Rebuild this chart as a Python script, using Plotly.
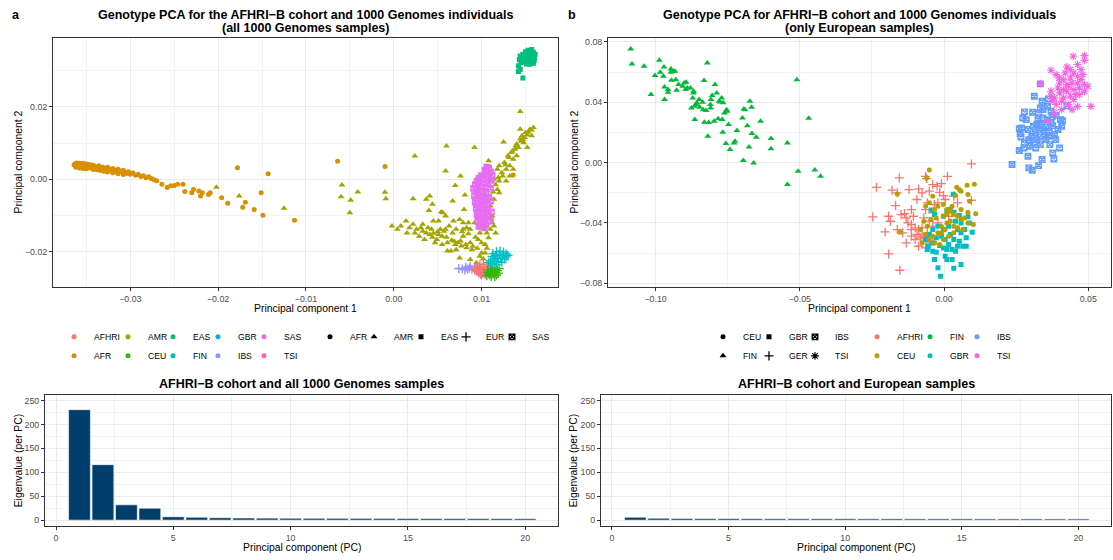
import plotly.graph_objects as go

# ---------------------------------------------------------------- data
COLOR_GROUPS_A = ["AFHRI", "AFR", "AMR", "CEU", "EAS", "FIN", "GBR", "IBS", "SAS", "TSI"]
SHAPE_GROUPS_A = ["AFR", "AMR", "EAS", "EUR", "SAS"]
SHAPE_GROUPS_B = ["CEU", "FIN", "GBR", "GER", "IBS", "TSI"]
COLOR_GROUPS_B = ["AFHRI", "CEU", "FIN", "GBR", "IBS", "TSI"]

PCS = list(range(1, 21))
EIG_ALL = [231, 116, 32, 25, 7, 6, 5, 4.5, 4.2, 4.0, 3.9, 3.8, 3.7, 3.6, 3.5, 3.4, 3.3, 3.3, 3.2, 3.1]
EIG_EUR = [6, 4, 3.5, 3.3, 3.2, 3.1, 3.0, 3.0, 2.9, 2.9, 2.8, 2.8, 2.7, 2.7, 2.7, 2.6, 2.6, 2.6, 2.5, 2.5]

# panel a : (PC1, PC2) per population
A_AFR = [(-0.0364, 0.0040), (-0.0363, 0.0043), (-0.0362, 0.0038), (-0.0361, 0.0045), (-0.0360, 0.0041),
         (-0.0359, 0.0036), (-0.0358, 0.0044), (-0.0357, 0.0039), (-0.0356, 0.0042), (-0.0355, 0.0037),
         (-0.0354, 0.0044), (-0.0353, 0.0040), (-0.0352, 0.0035), (-0.0351, 0.0043), (-0.0350, 0.0039),
         (-0.0349, 0.0036), (-0.0348, 0.0041), (-0.0347, 0.0038), (-0.0346, 0.0034), (-0.0345, 0.0040),
         (-0.0344, 0.0037), (-0.0343, 0.0033), (-0.0342, 0.0039), (-0.0340, 0.0035), (-0.0338, 0.0032),
         (-0.0336, 0.0037), (-0.0334, 0.0030), (-0.0332, 0.0034), (-0.0330, 0.0031), (-0.0328, 0.0027),
         (-0.0326, 0.0033), (-0.0324, 0.0029), (-0.0322, 0.0025), (-0.0320, 0.0030), (-0.0318, 0.0026),
         (-0.0316, 0.0022), (-0.0314, 0.0028), (-0.0312, 0.0023), (-0.0310, 0.0020), (-0.0308, 0.0025),
         (-0.0306, 0.0019), (-0.0304, 0.0016), (-0.0302, 0.0021), (-0.0300, 0.0014), (-0.0297, 0.0017),
         (-0.0294, 0.0011), (-0.0291, 0.0014), (-0.0288, 0.0008), (-0.0285, 0.0010), (-0.0282, 0.0004),
         (-0.0279, 0.0007), (-0.0276, 0.0002), (-0.0273, -0.0001), (-0.0270, -0.0004),
         (-0.0362, 0.0033), (-0.0358, 0.0031), (-0.0354, 0.0030), (-0.0350, 0.0029), (-0.0346, 0.0031),
         (-0.0342, 0.0027), (-0.0338, 0.0026), (-0.0334, 0.0024), (-0.0330, 0.0022), (-0.0326, 0.0020),
         (-0.0320, 0.0018), (-0.0314, 0.0015), (-0.0308, 0.0013),
         (-0.0264, -0.0014), (-0.0258, -0.0023), (-0.0254, -0.0018), (-0.0250, -0.0017), (-0.0246, -0.0014),
         (-0.0240, -0.0014), (-0.0238, -0.0034), (-0.0230, -0.0037), (-0.0228, -0.0028), (-0.0222, -0.0032),
         (-0.0220, -0.0046), (-0.0218, -0.0037), (-0.0211, -0.0042), (-0.0209, -0.0037), (-0.0196, -0.0051),
         (-0.0189, -0.0066), (-0.0178, 0.0032), (-0.0172, -0.0077), (-0.0169, -0.0063), (-0.0159, -0.0083),
         (-0.0151, -0.0037), (-0.0149, -0.0099), (-0.0143, 0.0015), (-0.0113, -0.0113), (-0.0064, 0.0050),
         (-0.0010, 0.0035), (0.0136, 0.0012)]

A_AMR = [(-0.0202, -0.0022), (-0.0176, -0.0046), (-0.0125, -0.0080), (-0.0059, -0.0016), (-0.0060, -0.0048),
         (-0.0049, -0.0058), (-0.0050, -0.0092), (-0.0041, -0.0035), (-0.0010, -0.0036), (-0.0009, -0.0054),
         (0.0024, 0.0064), (0.0059, 0.0023), (0.0060, 0.0092), (0.0092, 0.0088), (0.0076, 0.0009),
         (0.0070, -0.0017), (0.0022, -0.0054), (0.0037, -0.0055), (0.0041, -0.0046), (0.0044, -0.0069),
         (0.0040, -0.0086), (0.0054, -0.0090), (0.0056, -0.0092), (0.0067, -0.0060), (0.0081, -0.0043),
         (0.0080, -0.0083), (0.0075, -0.0111), (0.0059, -0.0101), (0.0068, -0.0115), (0.0051, -0.0115),
         (-0.0002, -0.0129), (0.0004, -0.0138), (0.0014, -0.0115), (0.0022, -0.0124), (0.0026, -0.0138),
         (0.0033, -0.0124), (0.0037, -0.0148), (0.0043, -0.0138), (0.0049, -0.0166), (0.0055, -0.0157),
         (0.0061, -0.0175), (0.0067, -0.0148), (0.0073, -0.0175), (0.0079, -0.0157), (0.0083, -0.0189),
         (0.0089, -0.0194), (0.0096, -0.0166), (0.0100, -0.0203), (0.0104, -0.0180), (0.0106, -0.0148),
         (0.0087, -0.0138), (0.0079, -0.0138), (0.0071, -0.0194), (0.0065, -0.0198), (0.0057, -0.0143),
         (0.0041, -0.0152), (0.0033, -0.0143), (0.0029, -0.0157), (0.0047, -0.0175), (0.0053, -0.0138),
         (0.0063, -0.0129), (0.0083, -0.0134), (0.0092, -0.0120), (0.0098, -0.0134), (0.0075, -0.0217),
         (0.0087, -0.0221), (0.0094, -0.0230), (0.0098, -0.0212), (0.0104, -0.0203), (0.0108, -0.0161),
         (0.0114, -0.0129), (0.0112, -0.0101), (0.0110, -0.0074), (0.0114, -0.0055), (0.0118, -0.0028),
         (0.0120, -0.0005), (0.0124, 0.0009), (0.0128, 0.0028), (0.0126, 0.0046), (0.0130, 0.0065),
         (0.0134, 0.0074), (0.0138, 0.0083), (0.0140, 0.0097), (0.0144, 0.0111), (0.0146, 0.0120),
         (0.0150, 0.0129), (0.0155, 0.0138), (0.0159, 0.0143), (0.0157, 0.0120), (0.0148, 0.0101),
         (0.0142, 0.0088), (0.0136, 0.0055), (0.0132, 0.0037), (0.0132, 0.0009), (0.0128, -0.0005),
         (0.0120, -0.0037), (0.0114, 0.0000), (0.0108, 0.0051), (0.0118, 0.0028), (0.0125, 0.0103),
         (0.0144, 0.0187), (0.0144, 0.0138), (0.0152, 0.0088), (0.0140, 0.0065), (0.0136, 0.0028),
         (0.0120, 0.0037), (0.0106, -0.0018), (0.0100, 0.0009), (0.0098, -0.0065), (0.0104, -0.0046),
         (0.0112, -0.0120), (0.0116, -0.0148), (0.0104, -0.0101), (0.0096, -0.0101), (0.0087, -0.0175),
         (0.0077, -0.0184), (0.0069, -0.0171), (0.0061, -0.0198), (0.0055, -0.0180), (0.0051, -0.0152),
         (0.0045, -0.0149), (0.0039, -0.0134), (0.0031, -0.0134), (0.0018, -0.0134), (0.0008, -0.0129),
         (0.0015, -0.0148), (0.0024, -0.0148), (0.0035, -0.0166), (0.0045, -0.0115), (0.0059, -0.0138),
         (0.0071, -0.0138), (0.0079, -0.0120), (0.0085, -0.0120), (0.0098, -0.0148), (0.0103, -0.0138),
         (0.0110, -0.0138),
         (0.0153, 0.0130), (0.0149, 0.0115), (0.0145, 0.0105), (0.0139, 0.0092), (0.0135, 0.0078),
         (0.0131, 0.0060), (0.0127, 0.0040), (0.0123, 0.0018), (0.0119, 0.0005), (0.0116, -0.0015),
         (0.0113, -0.0035), (0.0157, 0.0135), (0.0152, 0.0122), (0.0147, 0.0110),
         (0.0060, -0.0160), (0.0066, -0.0168), (0.0070, -0.0180), (0.0076, -0.0170), (0.0082, -0.0180),
         (0.0090, -0.0185), (0.0093, -0.0160), (0.0085, -0.0150), (0.0078, -0.0145), (0.0050, -0.0145),
         (0.0044, -0.0160), (0.0095, -0.0190), (0.0100, -0.0175), (0.0106, -0.0190), (0.0102, -0.0220)]

A_EAS = [(0.0147, 0.0345), (0.0150, 0.0352), (0.0153, 0.0356), (0.0156, 0.0354), (0.0159, 0.0350),
         (0.0161, 0.0345), (0.0149, 0.0338), (0.0152, 0.0342), (0.0155, 0.0346), (0.0158, 0.0341),
         (0.0160, 0.0336), (0.0146, 0.0332), (0.0150, 0.0330), (0.0154, 0.0335), (0.0157, 0.0331),
         (0.0160, 0.0328), (0.0148, 0.0325), (0.0152, 0.0322), (0.0156, 0.0324), (0.0159, 0.0320),
         (0.0144, 0.0340), (0.0143, 0.0330), (0.0151, 0.0318), (0.0155, 0.0317), (0.0153, 0.0349),
         (0.0157, 0.0358), (0.0145, 0.0322), (0.0142, 0.0313), (0.0144, 0.0303), (0.0142, 0.0297),
         (0.0147, 0.0279)]

A_SAS = [(0.0106, 0.0033), (0.0108, 0.0030), (0.0104, 0.0025), (0.0110, 0.0020), (0.0105, 0.0015),
         (0.0112, 0.0012), (0.0100, 0.0010), (0.0108, 0.0005), (0.0097, 0.0002), (0.0103, 0.0000),
         (0.0111, -0.0003), (0.0095, -0.0005), (0.0100, -0.0010), (0.0107, -0.0012), (0.0093, -0.0015),
         (0.0098, -0.0020), (0.0104, -0.0022), (0.0110, -0.0025), (0.0094, -0.0030), (0.0101, -0.0032),
         (0.0096, -0.0038), (0.0105, -0.0040), (0.0092, -0.0045), (0.0099, -0.0047), (0.0108, -0.0050),
         (0.0095, -0.0055), (0.0102, -0.0057), (0.0093, -0.0062), (0.0100, -0.0065), (0.0106, -0.0068),
         (0.0096, -0.0072), (0.0103, -0.0075), (0.0094, -0.0080), (0.0100, -0.0083), (0.0107, -0.0086),
         (0.0097, -0.0090), (0.0103, -0.0093), (0.0095, -0.0098), (0.0101, -0.0100), (0.0108, -0.0103),
         (0.0098, -0.0107), (0.0104, -0.0110), (0.0096, -0.0115), (0.0102, -0.0118), (0.0099, -0.0123),
         (0.0105, -0.0125), (0.0097, -0.0130), (0.0103, -0.0134), (0.0110, -0.0060), (0.0111, -0.0090),
         (0.0110, -0.0115), (0.0091, -0.0025)]

A_IBS = [(0.0074, -0.0246), (0.0078, -0.0247), (0.0082, -0.0243), (0.0086, -0.0245), (0.0089, -0.0248),
         (0.0092, -0.0246), (0.0087, -0.0240), (0.0094, -0.0252), (0.0081, -0.0250), (0.0084, -0.0248)]

A_TSI = [(0.0098, -0.0255), (0.0101, -0.0258), (0.0096, -0.0250), (0.0104, -0.0260), (0.0099, -0.0262)]

A_AFHRI = [(0.0095, -0.0240), (0.0098, -0.0236), (0.0102, -0.0234), (0.0106, -0.0236), (0.0109, -0.0240),
           (0.0094, -0.0247), (0.0098, -0.0244), (0.0102, -0.0242), (0.0106, -0.0244), (0.0110, -0.0247),
           (0.0095, -0.0254), (0.0099, -0.0251), (0.0103, -0.0250), (0.0107, -0.0252), (0.0110, -0.0255),
           (0.0097, -0.0259), (0.0101, -0.0258), (0.0105, -0.0260), (0.0100, -0.0264), (0.0104, -0.0263),
           (0.0092, -0.0250), (0.0112, -0.0243)]

A_GBR = [(0.0110, -0.0254), (0.0114, -0.0258), (0.0108, -0.0260), (0.0112, -0.0252)]

A_CEU = [(0.0107, -0.0250), (0.0111, -0.0248), (0.0115, -0.0249), (0.0118, -0.0252), (0.0108, -0.0257),
         (0.0112, -0.0255), (0.0116, -0.0256), (0.0119, -0.0259), (0.0109, -0.0263), (0.0113, -0.0262),
         (0.0117, -0.0264), (0.0111, -0.0268), (0.0115, -0.0269), (0.0120, -0.0246), (0.0106, -0.0266)]

A_FIN = [(0.0113, -0.0205), (0.0117, -0.0200), (0.0121, -0.0198), (0.0125, -0.0201), (0.0128, -0.0206),
         (0.0112, -0.0213), (0.0116, -0.0210), (0.0120, -0.0208), (0.0124, -0.0211), (0.0128, -0.0214),
         (0.0114, -0.0220), (0.0118, -0.0218), (0.0122, -0.0217), (0.0126, -0.0220), (0.0110, -0.0225),
         (0.0115, -0.0227), (0.0119, -0.0226), (0.0123, -0.0229), (0.0112, -0.0232), (0.0117, -0.0235),
         (0.0130, -0.0210), (0.0108, -0.0230)]

# panel b : (PC1, PC2) per population
B_FIN = [(-0.1086, 0.0754), (-0.1082, 0.0654), (-0.1040, 0.0639), (-0.1016, 0.0451), (-0.1002, 0.0577),
         (-0.0987, 0.0678), (-0.0984, 0.0599), (-0.0971, 0.0634), (-0.0973, 0.0572), (-0.0969, 0.0502),
         (-0.0969, 0.0418), (-0.0957, 0.0484), (-0.0957, 0.0466), (-0.0947, 0.0621), (-0.0947, 0.0599),
         (-0.0945, 0.0546), (-0.0939, 0.0606), (-0.0933, 0.0606), (-0.0930, 0.0550), (-0.0927, 0.0480),
         (-0.0920, 0.0517), (-0.0906, 0.0506), (-0.0901, 0.0528), (-0.0894, 0.0533), (-0.0890, 0.0495),
         (-0.0896, 0.0484), (-0.0879, 0.0495), (-0.0871, 0.0429), (-0.0869, 0.0462), (-0.0868, 0.0473),
         (-0.0864, 0.0285), (-0.0876, 0.0362), (-0.0865, 0.0373), (-0.0859, 0.0385), (-0.0857, 0.0396),
         (-0.0849, 0.0418), (-0.0847, 0.0367), (-0.0837, 0.0400), (-0.0835, 0.0351), (-0.0831, 0.0267),
         (-0.0832, 0.0544), (-0.0825, 0.0345), (-0.0821, 0.0661), (-0.0819, 0.0175), (-0.0816, 0.0265),
         (-0.0810, 0.0385), (-0.0808, 0.0418), (-0.0809, 0.0362), (-0.0804, 0.0444), (-0.0797, 0.0274),
         (-0.0794, 0.0517), (-0.0788, 0.0462), (-0.0783, 0.0290), (-0.0780, 0.0407), (-0.0776, 0.0402),
         (-0.0771, 0.0429), (-0.0769, 0.0285), (-0.0767, 0.0201), (-0.0766, 0.0396), (-0.0761, 0.0329),
         (-0.0756, 0.0126), (-0.0754, 0.0351), (-0.0752, 0.0340), (-0.0747, 0.0252), (-0.0742, 0.0086),
         (-0.0728, 0.0130), (-0.0725, 0.0141), (-0.0718, 0.0212), (-0.0699, 0.0296), (-0.0696, 0.0013),
         (-0.0694, 0.0356), (-0.0690, 0.0351), (-0.0682, 0.0245), (-0.0676, 0.0104), (-0.0673, 0.0407),
         (-0.0667, 0.0367), (-0.0666, 0.0192), (-0.0660, -0.0002), (-0.0651, 0.0168), (-0.0636, 0.0274),
         (-0.0600, 0.0159), (-0.0600, 0.0091), (-0.0543, 0.0130), (-0.0543, -0.0146), (-0.0510, 0.0550),
         (-0.0506, -0.0057), (-0.0469, 0.0294), (-0.0448, -0.0049), (-0.0428, -0.0091)]

B_IBS = [(0.0236, -0.0013), (0.0261, 0.0080), (0.0267, 0.0170), (0.0264, 0.0192), (0.0261, 0.0225),
         (0.0273, 0.0296), (0.0279, 0.0336), (0.0291, 0.0042), (0.0294, -0.0035), (0.0306, -0.0051),
         (0.0310, 0.0130), (0.0313, 0.0440), (0.0328, -0.0020), (0.0334, 0.0522), (0.0340, 0.0020),
         (0.0343, 0.0296), (0.0353, 0.0236), (0.0359, 0.0373), (0.0362, 0.0422), (0.0371, 0.0263),
         (0.0377, 0.0064), (0.0381, 0.0024), (0.0383, 0.0186), (0.0389, 0.0312), (0.0401, 0.0097),
         (0.0408, 0.0241), (0.0411, 0.0278), (0.0426, 0.0378), (0.0404, 0.0285), (0.0291, 0.0219),
         (0.0304, 0.0175), (0.0316, 0.0197), (0.0322, 0.0252), (0.0328, 0.0329), (0.0334, 0.0362),
         (0.0340, 0.0407), (0.0346, 0.0219), (0.0353, 0.0152), (0.0365, 0.0208), (0.0367, 0.0119),
         (0.0375, 0.0303), (0.0307, 0.0334), (0.0322, 0.0152), (0.0332, 0.0170), (0.0350, 0.0179),
         (0.0359, 0.0285), (0.0318, 0.0097), (0.0334, 0.0119), (0.0297, 0.0108), (0.0279, 0.0130),
         (0.0269, 0.0230), (0.0377, 0.0245), (0.0387, 0.0152), (0.0395, 0.0219), (0.0285, 0.0285),
         (0.0338, 0.0259), (0.0343, 0.0351), (0.0371, 0.0340), (0.0277, 0.0097), (0.0326, 0.0285),
         (0.0310, 0.0241), (0.0362, 0.0175), (0.0330, 0.0219), (0.0294, 0.0152)]

B_TSI = [(0.0448, 0.0705), (0.0487, 0.0709), (0.0487, 0.0678), (0.0371, 0.0612), (0.0334, 0.0524),
         (0.0389, 0.0583), (0.0426, 0.0634), (0.0463, 0.0650), (0.0475, 0.0617), (0.0450, 0.0594),
         (0.0438, 0.0561), (0.0414, 0.0550), (0.0401, 0.0528), (0.0426, 0.0517), (0.0463, 0.0528),
         (0.0487, 0.0517), (0.0499, 0.0506), (0.0450, 0.0484), (0.0426, 0.0473), (0.0401, 0.0462),
         (0.0371, 0.0473), (0.0383, 0.0429), (0.0414, 0.0429), (0.0438, 0.0440), (0.0469, 0.0451),
         (0.0487, 0.0473), (0.0389, 0.0385), (0.0408, 0.0351), (0.0432, 0.0385), (0.0450, 0.0418),
         (0.0463, 0.0373), (0.0444, 0.0351), (0.0383, 0.0329), (0.0359, 0.0274), (0.0509, 0.0373),
         (0.0463, 0.0572), (0.0444, 0.0528), (0.0420, 0.0594), (0.0395, 0.0495), (0.0475, 0.0550),
         (0.0457, 0.0451), (0.0432, 0.0506), (0.0408, 0.0407), (0.0377, 0.0407), (0.0438, 0.0617),
         (0.0481, 0.0583), (0.0469, 0.0495), (0.0414, 0.0484), (0.0371, 0.0440), (0.0399, 0.0561)]

B_AFHRI = [(0.0095, -0.0009), (0.0012, -0.0091), (-0.0064, -0.0091), (-0.0060, -0.0106), (-0.0155, -0.0102),
           (-0.0234, -0.0164), (-0.0180, -0.0183), (-0.0121, -0.0179), (-0.0088, -0.0175), (-0.0039, -0.0146),
           (-0.0024, -0.0157), (-0.0009, -0.0139), (-0.0076, -0.0201), (-0.0051, -0.0190), (-0.0015, -0.0197),
           (-0.0162, -0.0201), (-0.0168, -0.0285), (-0.0137, -0.0338), (-0.0192, -0.0356), (-0.0247, -0.0360),
           (-0.0186, -0.0389), (-0.0149, -0.0345), (-0.0131, -0.0367), (-0.0125, -0.0400), (-0.0113, -0.0411),
           (-0.0100, -0.0433), (-0.0088, -0.0444), (-0.0076, -0.0488), (-0.0113, -0.0488), (-0.0100, -0.0510),
           (-0.0131, -0.0533), (-0.0088, -0.0555), (-0.0064, -0.0566), (-0.0051, -0.0533), (-0.0039, -0.0522),
           (-0.0058, -0.0466), (-0.0076, -0.0433), (-0.0204, -0.0460), (-0.0192, -0.0606), (-0.0153, -0.0714),
           (-0.0113, -0.0444), (-0.0094, -0.0477), (-0.0082, -0.0499), (-0.0051, -0.0488), (-0.0039, -0.0422),
           (-0.0021, -0.0400), (-0.0039, -0.0334), (-0.0064, -0.0312), (-0.0021, -0.0267), (0.0004, -0.0245),
           (0.0047, -0.0267), (0.0095, -0.0250), (-0.0002, -0.0219), (0.0034, -0.0223), (-0.0113, -0.0312),
           (-0.0106, -0.0356), (-0.0143, -0.0466), (-0.0162, -0.0444), (-0.0094, -0.0245), (-0.0058, -0.0267),
           (-0.0033, -0.0278), (-0.0070, -0.0367), (-0.0051, -0.0389), (0.0016, -0.0356), (0.0028, -0.0323)]

B_GBR = [(0.0032, -0.0210), (-0.0045, -0.0314), (-0.0033, -0.0345), (-0.0002, -0.0356), (0.0010, -0.0323),
         (0.0022, -0.0312), (0.0034, -0.0329), (0.0053, -0.0351), (0.0083, -0.0360), (0.0089, -0.0400),
         (0.0098, -0.0462), (0.0071, -0.0444), (0.0059, -0.0466), (0.0077, -0.0499), (0.0053, -0.0522),
         (0.0047, -0.0555), (0.0065, -0.0555), (0.0077, -0.0555), (0.0028, -0.0577), (0.0010, -0.0577),
         (-0.0002, -0.0566), (-0.0015, -0.0550), (-0.0027, -0.0594), (-0.0039, -0.0588), (-0.0054, -0.0555),
         (-0.0064, -0.0510), (-0.0039, -0.0533), (-0.0009, -0.0488), (0.0022, -0.0477), (0.0034, -0.0510),
         (0.0010, -0.0643), (0.0004, -0.0621), (0.0028, -0.0643), (0.0059, -0.0676), (-0.0021, -0.0698),
         (0.0034, -0.0701), (-0.0012, -0.0754), (0.0040, -0.0389), (0.0016, -0.0422), (-0.0002, -0.0444),
         (-0.0021, -0.0422), (-0.0039, -0.0444), (-0.0051, -0.0477), (0.0004, -0.0510), (0.0047, -0.0444),
         (0.0059, -0.0400), (-0.0027, -0.0499), (0.0016, -0.0544), (0.0040, -0.0588), (-0.0058, -0.0577),
         (-0.0033, -0.0643)]

B_CEU = [(-0.0051, -0.0049), (-0.0060, -0.0102), (-0.0162, -0.0208), (-0.0152, -0.0462), (0.0080, -0.0150),
         (0.0105, -0.0144), (0.0083, -0.0212), (0.0044, -0.0164), (0.0053, -0.0179), (0.0059, -0.0190),
         (0.0040, -0.0219), (0.0089, -0.0256), (0.0110, -0.0340), (0.0102, -0.0411), (-0.0039, -0.0223),
         (-0.0051, -0.0267), (-0.0064, -0.0290), (-0.0033, -0.0312), (-0.0021, -0.0290), (-0.0002, -0.0278),
         (0.0010, -0.0312), (0.0022, -0.0323), (0.0034, -0.0345), (0.0047, -0.0356), (0.0059, -0.0378),
         (0.0071, -0.0367), (0.0083, -0.0329), (0.0010, -0.0400), (0.0022, -0.0389), (-0.0009, -0.0422),
         (0.0004, -0.0444), (-0.0021, -0.0466), (-0.0039, -0.0488), (-0.0051, -0.0510), (-0.0033, -0.0533),
         (-0.0015, -0.0544), (-0.0002, -0.0510), (0.0016, -0.0488), (0.0034, -0.0466), (0.0047, -0.0433),
         (0.0065, -0.0444), (-0.0064, -0.0477), (-0.0070, -0.0389), (-0.0045, -0.0378), (-0.0027, -0.0367),
         (-0.0002, -0.0356), (0.0010, -0.0345), (0.0028, -0.0290), (0.0059, -0.0312), (0.0083, -0.0400),
         (-0.0082, -0.0444), (-0.0058, -0.0422), (-0.0076, -0.0533), (-0.0009, -0.0466), (0.0034, -0.0422)]

# ---------------------------------------------------------------- style
W, H = 1113, 560
FONT = "Liberation Sans, Arial, Helvetica, sans-serif"
INK = "#333333"
GRID = "#EBEBEB"
MINOR = "#F3F3F3"
TICKTXT = "#4D4D4D"
BAR_COLOR = "#013E6B"

HUE_A = dict(zip(COLOR_GROUPS_A, ["#F8766D", "#D89000", "#A3A500", "#39B600", "#00BF7D",
                                   "#00BFC4", "#00B0F6", "#9590FF", "#E76BF3", "#FF62BC"]))
HUE_B = dict(zip(COLOR_GROUPS_B, ["#F8766D", "#B79F00", "#00BA38", "#00BFC4", "#619CFF", "#F564E3"]))

# symbol, size, line width
SYM = {
    "circle": ("circle", 5, 0),
    "triangle": ("triangle-up", 6, 0),
    "square": ("square", 5, 0),
    "plus": ("cross-thin-open", 6.5, 1.3),
    "squarex": ("square-x-open", 5.5, 1.4),
    "asterisk": ("asterisk-open", 6.5, 1.1),
}
SHAPE_A = {"AFR": "circle", "AMR": "triangle", "EAS": "square", "EUR": "plus", "SAS": "squarex"}
SHAPE_B = {"CEU": "circle", "FIN": "triangle", "GBR": "square", "GER": "plus", "IBS": "squarex", "TSI": "asterisk"}

fig = go.Figure()


def add_points(pts, color, shape, xa, ya):
    sym, size, lw = SYM[shape]
    fig.add_trace(go.Scatter(
        x=[p[0] for p in pts], y=[p[1] for p in pts], mode="markers",
        marker=dict(color=color, symbol=sym, size=size, line=dict(color=color, width=lw)),
        xaxis=xa, yaxis=ya, showlegend=False, hoverinfo="skip"))


# panel a (drawing order roughly as in the figure)
add_points(A_AMR, HUE_A["AMR"], SHAPE_A["AMR"], "x", "y")
add_points(A_AFR, HUE_A["AFR"], SHAPE_A["AFR"], "x", "y")
add_points(A_EAS, HUE_A["EAS"], SHAPE_A["EAS"], "x", "y")
add_points(A_SAS, HUE_A["SAS"], SHAPE_A["SAS"], "x", "y")
add_points(A_IBS, HUE_A["IBS"], SHAPE_A["EUR"], "x", "y")
add_points(A_TSI, HUE_A["TSI"], SHAPE_A["EUR"], "x", "y")
add_points(A_AFHRI, HUE_A["AFHRI"], SHAPE_A["EUR"], "x", "y")
add_points(A_GBR, HUE_A["GBR"], SHAPE_A["EUR"], "x", "y")
add_points(A_CEU, HUE_A["CEU"], SHAPE_A["EUR"], "x", "y")
add_points(A_FIN, HUE_A["FIN"], SHAPE_A["EUR"], "x", "y")

# panel b
add_points(B_FIN, HUE_B["FIN"], SHAPE_B["FIN"], "x2", "y2")
add_points(B_IBS, HUE_B["IBS"], SHAPE_B["IBS"], "x2", "y2")
add_points(B_TSI, HUE_B["TSI"], SHAPE_B["TSI"], "x2", "y2")
add_points(B_AFHRI, HUE_B["AFHRI"], SHAPE_B["GER"], "x2", "y2")
add_points(B_GBR, HUE_B["GBR"], SHAPE_B["GBR"], "x2", "y2")
add_points(B_CEU, HUE_B["CEU"], SHAPE_B["CEU"], "x2", "y2")

# eigenvalue bars
for vals, xa, ya in [(EIG_ALL, "x3", "y3"), (EIG_EUR, "x4", "y4")]:
    fig.add_trace(go.Bar(x=PCS, y=vals, width=0.93, xaxis=xa, yaxis=ya,
                         marker=dict(color=BAR_COLOR, line=dict(color="white", width=0.6)),
                         showlegend=False, hoverinfo="skip"))

# ---------------------------------------------------------------- legends
legend_layouts = {}
legend_counter = [0]


def make_legend(left_px, top_px, entries):
    legend_counter[0] += 1
    lid = "legend" if legend_counter[0] == 1 else "legend%d" % legend_counter[0]
    legend_layouts[lid] = dict(
        x=left_px / W, y=1 - top_px / H, xanchor="left", yanchor="top",
        orientation="v", bgcolor="rgba(0,0,0,0)", borderwidth=0, itemwidth=30,
        tracegroupgap=0, font=dict(family=FONT, size=8.6, color="black"),
        itemclick=False, itemdoubleclick=False)
    for name, color, shape in entries:
        sym, size, lw = SYM[shape]
        fig.add_trace(go.Scatter(
            x=[None], y=[None], mode="markers", name=name, legend=lid, showlegend=True,
            marker=dict(color=color, symbol=sym, size=size, line=dict(color=color, width=lw)),
            xaxis="x", yaxis="y", hoverinfo="skip"))


ROW_TOP = 322.5
SHIFT = 25
# panel a colour legend: two rows, filled column by column
a_col_x = [79, 133, 178, 223, 269]
for i, cx in enumerate(a_col_x):
    pair = COLOR_GROUPS_A[2 * i:2 * i + 2]
    make_legend(cx - SHIFT, ROW_TOP, [(g, HUE_A[g], "circle") for g in pair])
# panel a shape legend: one row
a_shape_x = [335, 379, 426, 471, 517]
for g, cx in zip(SHAPE_GROUPS_A, a_shape_x):
    make_legend(cx - SHIFT, ROW_TOP, [(g, "black", SHAPE_A[g])])
# panel b shape legend
b_shape_x = [728, 774, 820]
for i, cx in enumerate(b_shape_x):
    pair = SHAPE_GROUPS_B[2 * i:2 * i + 2]
    make_legend(cx - SHIFT, ROW_TOP, [(g, "black", SHAPE_B[g]) for g in pair])
# panel b colour legend
b_col_x = [882, 935, 982]
for i, cx in enumerate(b_col_x):
    pair = COLOR_GROUPS_B[2 * i:2 * i + 2]
    make_legend(cx - SHIFT, ROW_TOP, [(g, HUE_B[g], "circle") for g in pair])

# ---------------------------------------------------------------- axes
def axis(domain_px, rng, tickvals, fmt, minor_dtick, vertical=False):
    if vertical:
        dom = [1 - domain_px[1] / H, 1 - domain_px[0] / H]
    else:
        dom = [domain_px[0] / W, domain_px[1] / W]
    return dict(domain=dom, range=rng, tickvals=tickvals, tickformat=fmt,
                showline=True, linecolor=INK, linewidth=1, mirror=True,
                ticks="outside", ticklen=3, tickwidth=1, tickcolor=INK,
                showgrid=True, gridcolor=GRID, gridwidth=1, zeroline=False,
                tickfont=dict(family=FONT, size=8.8, color=TICKTXT),
                minor=dict(tick0=0, dtick=minor_dtick, showgrid=True, gridcolor=MINOR, gridwidth=0.6),
                fixedrange=True)


A_X = (53, 558)
B_X = (608, 1111)
TOP_Y = (37, 287)
BAR_A_X = (45, 558)
BAR_B_X = (601, 1111)
BAR_Y = (395, 527)

layout_axes = dict(
    xaxis=dict(axis(A_X, [-0.0388, 0.0187], [-0.03, -0.02, -0.01, 0.0, 0.01], ".2f", 0.005), anchor="y"),
    yaxis=dict(axis(TOP_Y, [-0.0297, 0.039], [-0.02, 0.0, 0.02], ".2f", 0.01, True), anchor="x"),
    xaxis2=dict(axis(B_X, [-0.1165, 0.0579], [-0.10, -0.05, 0.0, 0.05], ".2f", 0.025), anchor="y2"),
    yaxis2=dict(axis(TOP_Y, [-0.0825, 0.0827], [-0.08, -0.04, 0.0, 0.04, 0.08], ".2f", 0.02, True), anchor="x2"),
    xaxis3=dict(axis(BAR_A_X, [-0.47, 21.4], [0, 5, 10, 15, 20], "d", 2.5), anchor="y3"),
    yaxis3=dict(axis(BAR_Y, [-12.5, 262.5], [0, 50, 100, 150, 200, 250], "d", 25, True), anchor="x3"),
    xaxis4=dict(axis(BAR_B_X, [-0.47, 21.4], [0, 5, 10, 15, 20], "d", 2.5), anchor="y4"),
    yaxis4=dict(axis(BAR_Y, [-12.5, 262.5], [0, 50, 100, 150, 200, 250], "d", 25, True), anchor="x4"),
)

# ---------------------------------------------------------------- text
def ann(text, x_px, y_px, size, bold=False, angle=0):
    return dict(text="<b>%s</b>" % text if bold else text, x=x_px / W, y=1 - y_px / H,
                xref="paper", yref="paper", showarrow=False, textangle=angle,
                xanchor="center", yanchor="middle",
                font=dict(family=FONT, size=size, color="black"))


MINUS = "\u2212"
ca = (A_X[0] + A_X[1]) / 2
cb = (B_X[0] + B_X[1]) / 2
cba = (BAR_A_X[0] + BAR_A_X[1]) / 2
cbb = (BAR_B_X[0] + BAR_B_X[1]) / 2
annotations = [
    ann("a", 16, 14, 12.5, bold=True),
    ann("b", 572, 14, 12.5, bold=True),
    ann("Genotype PCA for the AFHRI%sB cohort and 1000 Genomes individuals" % MINUS, ca, 14, 12.5, bold=True),
    ann("(all 1000 Genomes samples)", ca, 27, 12.5, bold=True),
    ann("Genotype PCA for AFHRI%sB cohort and 1000 Genomes individuals" % MINUS, cb, 14, 12.5, bold=True),
    ann("(only European samples)", cb, 27, 12.5, bold=True),
    ann("AFHRI%sB cohort and all 1000 Genomes samples" % MINUS, cba, 384, 12.5, bold=True),
    ann("AFHRI%sB cohort and European samples" % MINUS, cbb, 384, 12.5, bold=True),
    ann("Principal component 1", ca, 308.5, 10.4),
    ann("Principal component 1", cb, 308.5, 10.4),
    ann("Principal component 2", 18, (TOP_Y[0] + TOP_Y[1]) / 2, 10.4, angle=-90),
    ann("Principal component 2", 574, (TOP_Y[0] + TOP_Y[1]) / 2, 10.4, angle=-90),
    ann("Principal component (PC)", cba, 548.5, 10.4),
    ann("Principal component (PC)", cbb, 548.5, 10.4),
    ann("Eigenvalue (per PC)", 18, (BAR_Y[0] + BAR_Y[1]) / 2, 10.4, angle=-90),
    ann("Eigenvalue (per PC)", 573, (BAR_Y[0] + BAR_Y[1]) / 2, 10.4, angle=-90),
]

fig.update_layout(
    width=W, height=H, margin=dict(l=0, r=0, t=0, b=0),
    paper_bgcolor="white", plot_bgcolor="white",
    font=dict(family=FONT, size=10, color="black"),
    showlegend=True, annotations=annotations,
    **layout_axes, **legend_layouts)

fig.write_html("out.html")
